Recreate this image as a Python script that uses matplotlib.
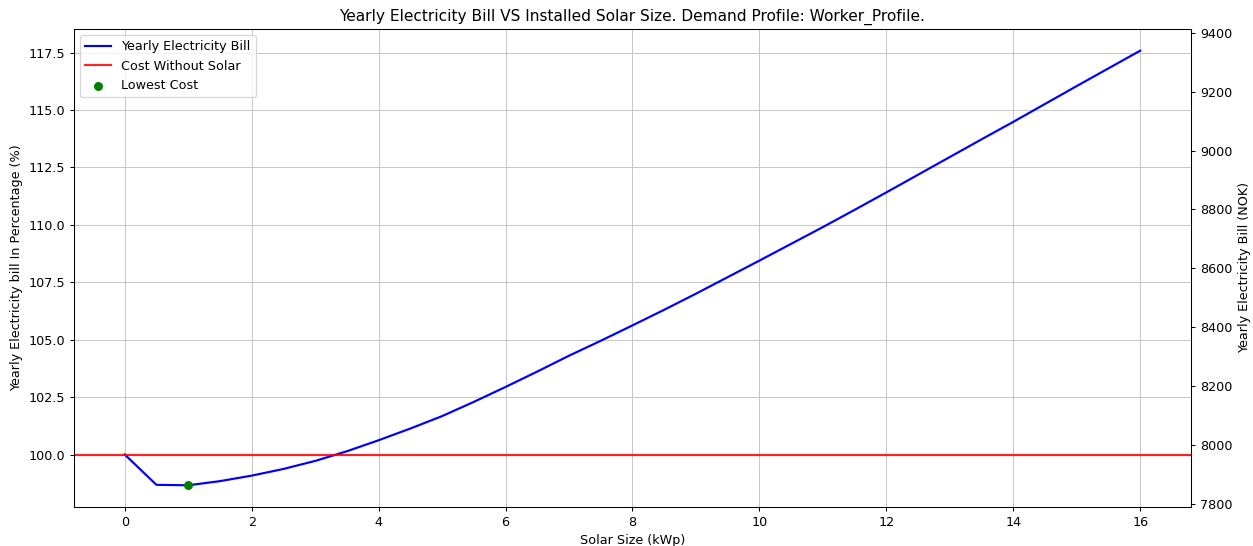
import numpy as np
import matplotlib
matplotlib.use("Agg")
import matplotlib.pyplot as plt

# installed solar size (kWp) and yearly bill relative to no-solar case (%)
solar_size = [0, 0.5, 1, 1.5, 2, 2.5, 3, 3.5, 4, 4.5, 5, 5.5, 6, 6.5, 7, 7.5, 8,
              8.5, 9, 9.5, 10, 10.5, 11, 11.5, 12, 12.5, 13, 13.5, 14, 14.5,
              15, 15.5, 16]
bill_pct = [100.00, 98.68, 98.66, 98.84, 99.08, 99.37, 99.72, 100.14, 100.62,
            101.13, 101.67, 102.29, 102.94, 103.61, 104.30, 104.95, 105.62,
            106.30, 107.00, 107.72, 108.44, 109.17, 109.90, 110.65, 111.41,
            112.18, 112.95, 113.72, 114.48, 115.26, 116.04, 116.81, 117.58]
cost_without_solar = 7967  # NOK / year
fixed_fee = 157            # NOK / year, not part of the percentage

bill_nok = fixed_fee + (cost_without_solar - fixed_fee) * np.array(bill_pct) / 100
i_min = int(np.argmin(bill_pct))

DPI = 92
fig, ax = plt.subplots(figsize=(1253 / DPI, 546 / DPI), dpi=DPI)
fig.subplots_adjust(left=0.059, right=0.9505, top=0.947, bottom=0.0714)

ax.plot(solar_size, bill_pct, color='blue', lw=1.7, label='Yearly Electricity Bill')
ax.axhline(100, color='red', lw=1.7, alpha=0.85, label='Cost Without Solar')
ax.scatter(solar_size[i_min], bill_pct[i_min], color='green', label='Lowest Cost', zorder=3)
ax.set_xlabel('Solar Size (kWp)')
ax.set_ylabel('Yearly Electricity bill In Percentage (%)')
ax.set_title('Yearly Electricity Bill VS Installed Solar Size. Demand Profile: Worker_Profile.')
ax.grid(True, color='#c8c8c8')
ax.legend(loc='upper left')

# same curve in NOK, only used to scale the right axis
ax2 = ax.twinx()
ax2.plot(solar_size, bill_nok, alpha=0)
ax2.set_ylabel('Yearly Electricity Bill (NOK)')

plt.savefig('out.png', dpi=DPI)
